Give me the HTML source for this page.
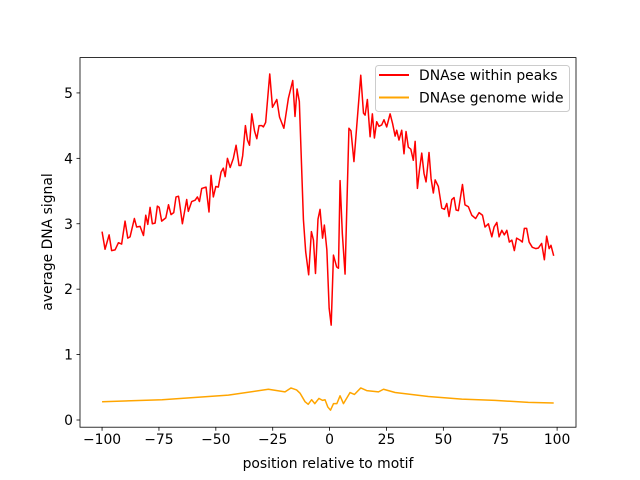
<!DOCTYPE html>
<html><head><meta charset="utf-8"><style>
html,body{margin:0;padding:0;background:#fff;}
svg{display:block;font-family:"DejaVu Sans","Liberation Sans",sans-serif;}
</style></head><body>
<svg id="chart" width="640" height="480" viewBox="0 0 640 480" xmlns="http://www.w3.org/2000/svg">
<rect x="0" y="0" width="640" height="480" fill="#fff"/>
<g id="plot"></g>
<g id="axes"></g>
<text x="328" y="468" font-size="13.9" text-anchor="middle">position relative to motif</text>
<text transform="translate(52,242) rotate(-90)" font-size="13.9" text-anchor="middle">average DNA signal</text>
<g>
<rect x="375.5" y="65.5" width="194" height="46" rx="3" fill="#fff" fill-opacity="0.8" stroke="#ccc"/>
<line x1="379" y1="75" x2="409" y2="75" stroke="red" stroke-width="2"/>
<text x="419" y="80" font-size="13.9">DNAse within peaks</text>
<line x1="379" y1="97.5" x2="409" y2="97.5" stroke="orange" stroke-width="2"/>
<text x="419" y="102.5" font-size="13.9">DNAse genome wide</text>
</g>
</svg>
<script>
const peaksX=[-100,-98.7,-96.9,-95.8,-94.3,-92.8,-91.4,-89.9,-88.7,-87.7,-85.8,-84.8,-83.3,-81.8,-80.8,-79.9,-78.9,-77.9,-76.7,-75.7,-74.9,-73.8,-72,-70.8,-69.7,-68.5,-67.5,-66.4,-66,-64.7,-62.8,-62.1,-60.6,-59.1,-58.1,-57.2,-56.2,-54.3,-53,-52.1,-51.1,-50,-48.9,-47.7,-46.7,-45.9,-44.9,-43.7,-42.3,-41.1,-39.8,-39,-38.2,-37,-36.1,-35.2,-34.2,-33,-32,-31,-29.8,-29.1,-28.1,-26.3,-25.1,-23.2,-22,-20.1,-18.1,-16.2,-15.2,-14.3,-13.3,-11.5,-10.5,-9.2,-8,-7.1,-6.2,-5.1,-4.2,-3.1,-2.3,-1.2,-0.2,0.7,1.7,3.1,3.9,4.6,5.6,6.8,8.5,9.4,10.7,11.9,13.7,14.9,15.6,16.6,17.8,18.8,19.7,20.7,21.7,22.9,23.9,25.1,26.6,27.7,28.8,29.5,30.5,31.7,32.7,33.6,34.6,35.7,36.8,37.6,38.6,39.5,40.5,41.5,42.4,43.7,44.6,45.6,46.4,47.8,49.3,50.5,51.5,52.5,53.7,54.7,55.6,56.6,58.4,59.5,61,62.5,64.2,65.7,67.2,68.3,69.8,71.3,72.3,73.5,74.5,75.7,76.8,77.9,79,80.1,81.2,82.2,83.7,84.7,85.6,86.6,87.7,89.1,90.6,91.8,93.2,94.4,95.4,96.5,97.3,98.5];
const peaksY=[2.88,2.61,2.83,2.59,2.6,2.71,2.69,3.04,2.78,2.8,3.08,2.95,2.96,2.82,3.13,2.99,3.25,3.0,3.01,3.27,3.25,3.04,3.09,3.29,3.14,3.17,3.41,3.42,3.33,3.0,3.37,3.19,3.34,3.36,3.41,3.34,3.54,3.56,3.18,3.74,3.41,3.57,3.56,3.79,3.85,3.72,4.0,3.86,4.0,4.2,3.89,3.89,4.04,4.5,4.28,4.2,4.68,4.42,4.3,4.5,4.5,4.48,4.55,5.29,4.78,4.9,4.63,4.46,4.92,5.19,4.64,5.06,4.87,3.06,2.57,2.22,2.88,2.75,2.24,3.07,3.22,2.78,2.98,2.6,1.71,1.45,2.52,2.34,2.32,3.66,2.85,2.23,4.46,4.42,3.95,4.48,5.27,4.69,4.66,4.9,4.33,4.68,4.31,4.56,4.49,4.51,4.59,4.48,4.68,4.53,4.34,4.43,4.28,4.43,4.07,4.41,4.17,4.14,3.97,4.26,3.54,3.82,4.08,3.77,3.64,4.09,3.69,3.47,3.67,3.57,3.24,3.22,3.31,3.11,3.37,3.4,3.21,3.2,3.6,3.29,3.26,3.13,3.08,3.17,3.13,2.95,3.0,2.8,2.95,3.02,2.8,2.9,2.83,2.9,2.72,2.75,2.59,2.78,2.75,2.72,2.93,2.93,2.72,2.64,2.62,2.63,2.7,2.45,2.81,2.62,2.67,2.51];
const genomeX=[-100,-73.6,-44.5,-26.9,-19.6,-17,-14.5,-13,-10.8,-9.4,-7.9,-6.5,-4.7,-3.1,-2,-0.8,0.4,1.7,3.2,4.6,6.1,9,10.9,13.7,16.3,21.5,23.7,28.8,43.4,58.1,72.7,87.4,98.5];
const genomeY=[0.28,0.31,0.38,0.47,0.43,0.49,0.46,0.41,0.28,0.24,0.31,0.25,0.33,0.30,0.31,0.20,0.15,0.25,0.25,0.37,0.25,0.42,0.39,0.49,0.45,0.43,0.47,0.42,0.36,0.32,0.30,0.27,0.26];
const xTicks=[-100,-75,-50,-25,0,25,50,75,100];
const yTicks=[0,1,2,3,4,5];

const L=80,R=576,T=57.6,B=427.2;
const xMin=-109.7,xMax=108.3,yMin=-0.11,yMax=5.54;
function sx(v){return L+(v-xMin)/(xMax-xMin)*(R-L);}
function sy(v){return B-(v-yMin)/(yMax-yMin)*(B-T);}
const NS="http://www.w3.org/2000/svg";
const plot=document.getElementById('plot'),axes=document.getElementById('axes');
function mk(tag,attrs,parent){const e=document.createElementNS(NS,tag);for(const k in attrs)e.setAttribute(k,attrs[k]);parent.appendChild(e);return e;}
function line(xs,ys,color,name){
  const p=mk('path',{d:xs.map((x,i)=>(i?'L':'M')+sx(x).toFixed(2)+','+sy(ys[i]).toFixed(2)).join(''),fill:'none',stroke:color,'stroke-width':1.5,'stroke-linejoin':'round'},plot);
  
  
}
line(genomeX,genomeY,'orange','genome-wide-line');
line(peaksX,peaksY,'red','within-peaks-line');
const frame=mk('rect',{x:L,y:T,width:R-L,height:B-T,fill:'none',stroke:'#000','stroke-width':0.8},axes);


xTicks.forEach(t=>{
  const x=sx(t);
  const tk=mk('line',{x1:x,y1:B,x2:x,y2:B+3.5,stroke:'#000','stroke-width':0.8},axes);
  
  
  const lb=mk('text',{x:x,y:B+17,'font-size':13.9,'text-anchor':'middle'},axes);
  lb.textContent=(t<0?'\u2212'+(-t):t);
  
  
});
yTicks.forEach(t=>{
  const y=sy(t);
  const tk=mk('line',{x1:L-3.5,y1:y,x2:L,y2:y,stroke:'#000','stroke-width':0.8},axes);
  
  
  const lb=mk('text',{x:L-7,y:y+5,'font-size':13.9,'text-anchor':'end'},axes);
  lb.textContent=t;
  
  
});
</script>
</body></html>
